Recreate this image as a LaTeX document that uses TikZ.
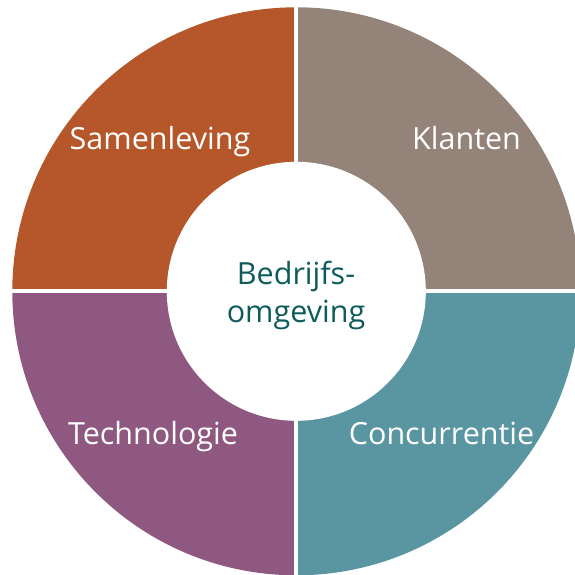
\documentclass[tikz,border=0pt]{standalone}
\usepackage{fontspec}
\setmainfont{Open Sans}
\definecolor{cOrange}{HTML}{B5572A}
\definecolor{cGrey}{HTML}{948379}
\definecolor{cPurple}{HTML}{8F5880}
\definecolor{cTeal}{HTML}{5A95A2}
\definecolor{cText}{HTML}{0E5B5B}
\begin{document}
\begin{tikzpicture}[x=1pt,y=1pt,
  lab/.style={text=white,font=\fontsize{30.5}{36}\selectfont,inner sep=0pt,anchor=base},
  ctr/.style={text=cText,font=\fontsize{30.5}{36}\selectfont,inner sep=0pt,anchor=base}]
\useasboundingbox (0,0) rectangle (575,575);
\clip (0,0) rectangle (575,575);
\coordinate (C) at (296.3,283.7);
\def\R{284}
\def\r{129.5}
\fill[cOrange] (C) -- ++(180:\R) arc (180:90:\R) -- cycle;
\fill[cGrey] (C) -- ++(90:\R) arc (90:0:\R) -- cycle;
\fill[cTeal] (C) -- ++(0:\R) arc (0:-90:\R) -- cycle;
\fill[cPurple] (C) -- ++(-90:\R) arc (-90:-180:\R) -- cycle;
\draw[white,line width=4pt] ([xshift=-300pt]C) -- ([xshift=300pt]C);
\draw[white,line width=4pt] ([yshift=-300pt]C) -- ([yshift=300pt]C);
\fill[white] (C) circle (\r);
\node[lab] (s) at (160,425.5) {Samenleving};
\node[lab] (k) at (466.5,425.5) {Klanten};
\node[lab] (t) at (153,130.5) {Technologie};
\node[lab] (c) at (441.5,130.5) {Concurrentie};
\node[ctr] (b1) at (296,290) {Bedrijfs-};
\node[ctr] (b2) at (296,252) {omgeving};
\end{tikzpicture}
\end{document}
